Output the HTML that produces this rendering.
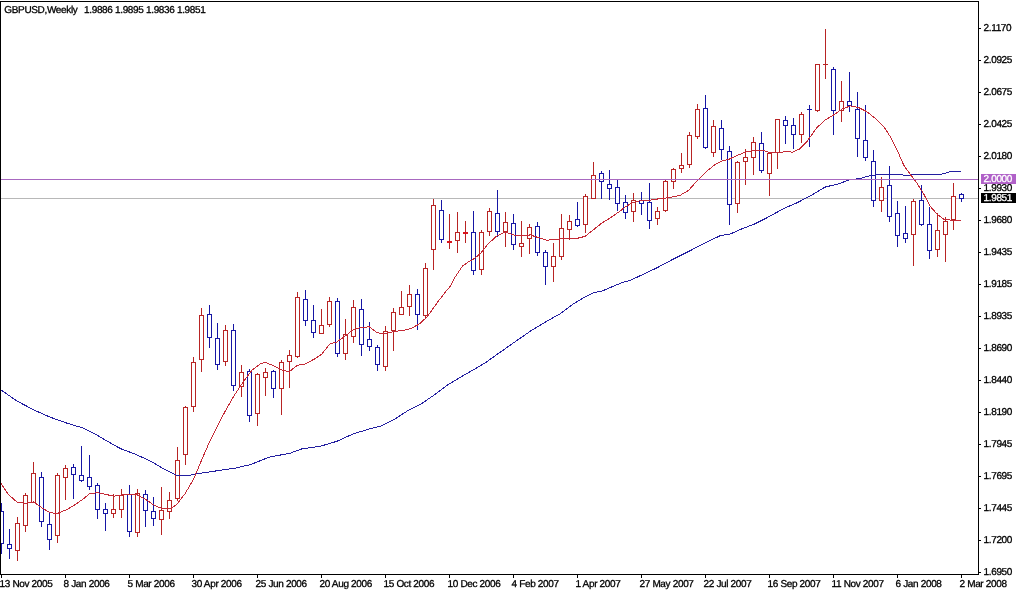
<!DOCTYPE html>
<html><head><meta charset="utf-8"><title>GBPUSD Weekly</title>
<style>
html,body{margin:0;padding:0;background:#fff;}
body{width:1017px;height:591px;position:relative;overflow:hidden;font-family:"Liberation Sans",sans-serif;font-size:10px;letter-spacing:-0.34px;text-rendering:geometricPrecision;-webkit-text-stroke:0.3px;color:#000;}
svg{position:absolute;left:0;top:0;}
.t{position:absolute;white-space:pre;line-height:12px;}
.pl{position:absolute;left:983.5px;white-space:pre;line-height:12px;height:12px;}
.dl{position:absolute;top:579px;white-space:pre;line-height:12px;height:12px;}
.tag{position:absolute;left:981px;width:35px;height:10px;line-height:12px;overflow:hidden;color:#fff;white-space:pre;box-sizing:border-box;padding-left:2.5px;}
</style></head><body>
<svg width="1017" height="591" viewBox="0 0 1017 591" shape-rendering="crispEdges">
<rect x="0" y="0" width="1017" height="591" fill="#fff"/>
<rect x="0" y="198" width="978" height="1" fill="#b8b8b8"/>
<rect x="1" y="503" width="1" height="51" fill="#1616a4"/>
<rect x="-0.5" y="511.5" width="4" height="32" fill="#fff" stroke="#1616a4" stroke-width="1"/>
<rect x="9" y="529" width="1" height="30" fill="#1616a4"/>
<rect x="7.5" y="544.5" width="4" height="4" fill="#fff" stroke="#1616a4" stroke-width="1"/>
<rect x="17" y="517" width="1" height="44" fill="#b82424"/>
<rect x="15.5" y="523.5" width="4" height="27" fill="#fff" stroke="#b82424" stroke-width="1"/>
<rect x="25" y="493" width="1" height="39" fill="#b82424"/>
<rect x="23.5" y="495.5" width="4" height="30" fill="#fff" stroke="#b82424" stroke-width="1"/>
<rect x="33" y="462" width="1" height="41" fill="#b82424"/>
<rect x="31.5" y="473.5" width="4" height="29" fill="#fff" stroke="#b82424" stroke-width="1"/>
<rect x="41" y="472" width="1" height="55" fill="#1616a4"/>
<rect x="39.5" y="477.5" width="4" height="44" fill="#fff" stroke="#1616a4" stroke-width="1"/>
<rect x="49" y="513" width="1" height="37" fill="#1616a4"/>
<rect x="47.5" y="524.5" width="4" height="15" fill="#fff" stroke="#1616a4" stroke-width="1"/>
<rect x="57" y="473" width="1" height="70" fill="#b82424"/>
<rect x="55.5" y="475.5" width="4" height="60" fill="#fff" stroke="#b82424" stroke-width="1"/>
<rect x="65" y="465" width="1" height="35" fill="#b82424"/>
<rect x="63.5" y="468.5" width="4" height="9" fill="#fff" stroke="#b82424" stroke-width="1"/>
<rect x="73" y="464" width="1" height="35" fill="#1616a4"/>
<rect x="71.5" y="467.5" width="4" height="7" fill="#fff" stroke="#1616a4" stroke-width="1"/>
<rect x="81" y="446" width="1" height="36" fill="#1616a4"/>
<rect x="79.5" y="475.5" width="4" height="5" fill="#fff" stroke="#1616a4" stroke-width="1"/>
<rect x="89" y="455" width="1" height="35" fill="#1616a4"/>
<rect x="87.5" y="477.5" width="4" height="9" fill="#fff" stroke="#1616a4" stroke-width="1"/>
<rect x="97" y="483" width="1" height="36" fill="#1616a4"/>
<rect x="95.5" y="485.5" width="4" height="24" fill="#fff" stroke="#1616a4" stroke-width="1"/>
<rect x="105" y="503" width="1" height="28" fill="#1616a4"/>
<rect x="103.5" y="509.5" width="4" height="4" fill="#fff" stroke="#1616a4" stroke-width="1"/>
<rect x="113" y="494" width="1" height="24" fill="#b82424"/>
<rect x="111.5" y="509.5" width="4" height="4" fill="#fff" stroke="#b82424" stroke-width="1"/>
<rect x="121" y="489" width="1" height="29" fill="#b82424"/>
<rect x="119.5" y="495.5" width="4" height="14" fill="#fff" stroke="#b82424" stroke-width="1"/>
<rect x="129" y="485" width="1" height="52" fill="#1616a4"/>
<rect x="127.5" y="494.5" width="4" height="37" fill="#fff" stroke="#1616a4" stroke-width="1"/>
<rect x="137" y="489" width="1" height="48" fill="#b82424"/>
<rect x="135.5" y="493.5" width="4" height="39" fill="#fff" stroke="#b82424" stroke-width="1"/>
<rect x="145" y="490" width="1" height="37" fill="#1616a4"/>
<rect x="143.5" y="494.5" width="4" height="16" fill="#fff" stroke="#1616a4" stroke-width="1"/>
<rect x="153" y="497" width="1" height="29" fill="#1616a4"/>
<rect x="151.5" y="511.5" width="4" height="7" fill="#fff" stroke="#1616a4" stroke-width="1"/>
<rect x="161" y="487" width="1" height="48" fill="#b82424"/>
<rect x="159.5" y="510.5" width="4" height="9" fill="#fff" stroke="#b82424" stroke-width="1"/>
<rect x="169" y="492" width="1" height="27" fill="#b82424"/>
<rect x="167.5" y="500.5" width="4" height="11" fill="#fff" stroke="#b82424" stroke-width="1"/>
<rect x="177" y="447" width="1" height="54" fill="#b82424"/>
<rect x="175.5" y="460.5" width="4" height="38" fill="#fff" stroke="#b82424" stroke-width="1"/>
<rect x="185" y="406" width="1" height="59" fill="#b82424"/>
<rect x="183.5" y="407.5" width="4" height="47" fill="#fff" stroke="#b82424" stroke-width="1"/>
<rect x="193" y="357" width="1" height="55" fill="#b82424"/>
<rect x="191.5" y="362.5" width="4" height="44" fill="#fff" stroke="#b82424" stroke-width="1"/>
<rect x="201" y="308" width="1" height="64" fill="#b82424"/>
<rect x="199.5" y="315.5" width="4" height="44" fill="#fff" stroke="#b82424" stroke-width="1"/>
<rect x="209" y="305" width="1" height="43" fill="#1616a4"/>
<rect x="207.5" y="314.5" width="4" height="23" fill="#fff" stroke="#1616a4" stroke-width="1"/>
<rect x="217" y="323" width="1" height="47" fill="#1616a4"/>
<rect x="215.5" y="338.5" width="4" height="26" fill="#fff" stroke="#1616a4" stroke-width="1"/>
<rect x="225" y="325" width="1" height="41" fill="#b82424"/>
<rect x="223.5" y="330.5" width="4" height="31" fill="#fff" stroke="#b82424" stroke-width="1"/>
<rect x="233" y="324" width="1" height="67" fill="#1616a4"/>
<rect x="231.5" y="330.5" width="4" height="55" fill="#fff" stroke="#1616a4" stroke-width="1"/>
<rect x="241" y="365" width="1" height="32" fill="#b82424"/>
<rect x="239.5" y="372.5" width="4" height="14" fill="#fff" stroke="#b82424" stroke-width="1"/>
<rect x="249" y="369" width="1" height="53" fill="#1616a4"/>
<rect x="247.5" y="371.5" width="4" height="44" fill="#fff" stroke="#1616a4" stroke-width="1"/>
<rect x="257" y="373" width="1" height="53" fill="#b82424"/>
<rect x="255.5" y="374.5" width="4" height="39" fill="#fff" stroke="#b82424" stroke-width="1"/>
<rect x="265" y="368" width="1" height="28" fill="#b82424"/>
<rect x="263.5" y="372.5" width="4" height="5" fill="#fff" stroke="#b82424" stroke-width="1"/>
<rect x="273" y="370" width="1" height="28" fill="#1616a4"/>
<rect x="271.5" y="371.5" width="4" height="17" fill="#fff" stroke="#1616a4" stroke-width="1"/>
<rect x="281" y="360" width="1" height="55" fill="#b82424"/>
<rect x="279.5" y="362.5" width="4" height="26" fill="#fff" stroke="#b82424" stroke-width="1"/>
<rect x="289" y="350" width="1" height="38" fill="#b82424"/>
<rect x="287.5" y="355.5" width="4" height="6" fill="#fff" stroke="#b82424" stroke-width="1"/>
<rect x="297" y="292" width="1" height="66" fill="#b82424"/>
<rect x="295.5" y="297.5" width="4" height="59" fill="#fff" stroke="#b82424" stroke-width="1"/>
<rect x="305" y="290" width="1" height="36" fill="#1616a4"/>
<rect x="303.5" y="299.5" width="4" height="21" fill="#fff" stroke="#1616a4" stroke-width="1"/>
<rect x="313" y="305" width="1" height="33" fill="#1616a4"/>
<rect x="311.5" y="320.5" width="4" height="12" fill="#fff" stroke="#1616a4" stroke-width="1"/>
<rect x="321" y="309" width="1" height="25" fill="#b82424"/>
<rect x="319.5" y="325.5" width="4" height="8" fill="#fff" stroke="#b82424" stroke-width="1"/>
<rect x="329" y="297" width="1" height="30" fill="#b82424"/>
<rect x="327.5" y="301.5" width="4" height="23" fill="#fff" stroke="#b82424" stroke-width="1"/>
<rect x="337" y="298" width="1" height="59" fill="#1616a4"/>
<rect x="335.5" y="301.5" width="4" height="52" fill="#fff" stroke="#1616a4" stroke-width="1"/>
<rect x="345" y="319" width="1" height="41" fill="#b82424"/>
<rect x="343.5" y="334.5" width="4" height="19" fill="#fff" stroke="#b82424" stroke-width="1"/>
<rect x="353" y="300" width="1" height="43" fill="#b82424"/>
<rect x="351.5" y="307.5" width="4" height="29" fill="#fff" stroke="#b82424" stroke-width="1"/>
<rect x="361" y="299" width="1" height="57" fill="#1616a4"/>
<rect x="359.5" y="309.5" width="4" height="35" fill="#fff" stroke="#1616a4" stroke-width="1"/>
<rect x="369" y="322" width="1" height="29" fill="#1616a4"/>
<rect x="367.5" y="339.5" width="4" height="7" fill="#fff" stroke="#1616a4" stroke-width="1"/>
<rect x="377" y="345" width="1" height="26" fill="#1616a4"/>
<rect x="375.5" y="347.5" width="4" height="17" fill="#fff" stroke="#1616a4" stroke-width="1"/>
<rect x="385" y="326" width="1" height="45" fill="#b82424"/>
<rect x="383.5" y="331.5" width="4" height="35" fill="#fff" stroke="#b82424" stroke-width="1"/>
<rect x="393" y="308" width="1" height="43" fill="#b82424"/>
<rect x="391.5" y="312.5" width="4" height="18" fill="#fff" stroke="#b82424" stroke-width="1"/>
<rect x="401" y="291" width="1" height="24" fill="#b82424"/>
<rect x="399.5" y="307.5" width="4" height="7" fill="#fff" stroke="#b82424" stroke-width="1"/>
<rect x="409" y="285" width="1" height="31" fill="#b82424"/>
<rect x="407.5" y="294.5" width="4" height="12" fill="#fff" stroke="#b82424" stroke-width="1"/>
<rect x="417" y="289" width="1" height="41" fill="#1616a4"/>
<rect x="415.5" y="294.5" width="4" height="20" fill="#fff" stroke="#1616a4" stroke-width="1"/>
<rect x="425" y="263" width="1" height="55" fill="#b82424"/>
<rect x="423.5" y="268.5" width="4" height="47" fill="#fff" stroke="#b82424" stroke-width="1"/>
<rect x="433" y="199" width="1" height="71" fill="#b82424"/>
<rect x="431.5" y="205.5" width="4" height="44" fill="#fff" stroke="#b82424" stroke-width="1"/>
<rect x="441" y="200" width="1" height="43" fill="#1616a4"/>
<rect x="439.5" y="210.5" width="4" height="29" fill="#fff" stroke="#1616a4" stroke-width="1"/>
<rect x="449" y="214" width="1" height="35" fill="#b82424"/>
<rect x="447" y="241" width="5" height="2" fill="#d8141c"/>
<rect x="457" y="212" width="1" height="41" fill="#b82424"/>
<rect x="455.5" y="232.5" width="4" height="8" fill="#fff" stroke="#b82424" stroke-width="1"/>
<rect x="465" y="221" width="1" height="22" fill="#b82424"/>
<rect x="463" y="232" width="5" height="2" fill="#d8141c"/>
<rect x="473" y="211" width="1" height="64" fill="#1616a4"/>
<rect x="471.5" y="232.5" width="4" height="38" fill="#fff" stroke="#1616a4" stroke-width="1"/>
<rect x="481" y="230" width="1" height="45" fill="#b82424"/>
<rect x="479.5" y="232.5" width="4" height="37" fill="#fff" stroke="#b82424" stroke-width="1"/>
<rect x="489" y="208" width="1" height="28" fill="#b82424"/>
<rect x="487.5" y="211.5" width="4" height="20" fill="#fff" stroke="#b82424" stroke-width="1"/>
<rect x="497" y="190" width="1" height="47" fill="#1616a4"/>
<rect x="495.5" y="213.5" width="4" height="18" fill="#fff" stroke="#1616a4" stroke-width="1"/>
<rect x="505" y="212" width="1" height="35" fill="#b82424"/>
<rect x="503.5" y="222.5" width="4" height="9" fill="#fff" stroke="#b82424" stroke-width="1"/>
<rect x="513" y="214" width="1" height="36" fill="#1616a4"/>
<rect x="511.5" y="223.5" width="4" height="21" fill="#fff" stroke="#1616a4" stroke-width="1"/>
<rect x="521" y="221" width="1" height="36" fill="#b82424"/>
<rect x="519.5" y="243.5" width="4" height="3" fill="#fff" stroke="#b82424" stroke-width="1"/>
<rect x="529" y="224" width="1" height="30" fill="#b82424"/>
<rect x="527.5" y="227.5" width="4" height="11" fill="#fff" stroke="#b82424" stroke-width="1"/>
<rect x="537" y="222" width="1" height="34" fill="#1616a4"/>
<rect x="535.5" y="226.5" width="4" height="26" fill="#fff" stroke="#1616a4" stroke-width="1"/>
<rect x="545" y="250" width="1" height="35" fill="#1616a4"/>
<rect x="543.5" y="252.5" width="4" height="14" fill="#fff" stroke="#1616a4" stroke-width="1"/>
<rect x="553" y="243" width="1" height="39" fill="#b82424"/>
<rect x="551.5" y="256.5" width="4" height="10" fill="#fff" stroke="#b82424" stroke-width="1"/>
<rect x="561" y="214" width="1" height="46" fill="#b82424"/>
<rect x="559.5" y="228.5" width="4" height="28" fill="#fff" stroke="#b82424" stroke-width="1"/>
<rect x="569" y="215" width="1" height="25" fill="#b82424"/>
<rect x="567.5" y="221.5" width="4" height="8" fill="#fff" stroke="#b82424" stroke-width="1"/>
<rect x="577" y="202" width="1" height="25" fill="#1616a4"/>
<rect x="575.5" y="219.5" width="4" height="6" fill="#fff" stroke="#1616a4" stroke-width="1"/>
<rect x="585" y="194" width="1" height="39" fill="#b82424"/>
<rect x="583.5" y="196.5" width="4" height="28" fill="#fff" stroke="#b82424" stroke-width="1"/>
<rect x="593" y="162" width="1" height="37" fill="#b82424"/>
<rect x="591.5" y="175.5" width="4" height="23" fill="#fff" stroke="#b82424" stroke-width="1"/>
<rect x="601" y="171" width="1" height="28" fill="#1616a4"/>
<rect x="599.5" y="173.5" width="4" height="8" fill="#fff" stroke="#1616a4" stroke-width="1"/>
<rect x="609" y="170" width="1" height="30" fill="#1616a4"/>
<rect x="607.5" y="184.5" width="4" height="4" fill="#fff" stroke="#1616a4" stroke-width="1"/>
<rect x="617" y="180" width="1" height="31" fill="#1616a4"/>
<rect x="615.5" y="187.5" width="4" height="16" fill="#fff" stroke="#1616a4" stroke-width="1"/>
<rect x="625" y="195" width="1" height="24" fill="#1616a4"/>
<rect x="623.5" y="202.5" width="4" height="10" fill="#fff" stroke="#1616a4" stroke-width="1"/>
<rect x="633" y="193" width="1" height="29" fill="#b82424"/>
<rect x="631.5" y="200.5" width="4" height="11" fill="#fff" stroke="#b82424" stroke-width="1"/>
<rect x="641" y="192" width="1" height="23" fill="#1616a4"/>
<rect x="639.5" y="200.5" width="4" height="3" fill="#fff" stroke="#1616a4" stroke-width="1"/>
<rect x="649" y="183" width="1" height="46" fill="#1616a4"/>
<rect x="647.5" y="202.5" width="4" height="18" fill="#fff" stroke="#1616a4" stroke-width="1"/>
<rect x="657" y="207" width="1" height="18" fill="#b82424"/>
<rect x="655.5" y="211.5" width="4" height="7" fill="#fff" stroke="#b82424" stroke-width="1"/>
<rect x="665" y="180" width="1" height="32" fill="#b82424"/>
<rect x="663.5" y="181.5" width="4" height="29" fill="#fff" stroke="#b82424" stroke-width="1"/>
<rect x="673" y="168" width="1" height="21" fill="#b82424"/>
<rect x="671.5" y="169.5" width="4" height="12" fill="#fff" stroke="#b82424" stroke-width="1"/>
<rect x="681" y="153" width="1" height="20" fill="#b82424"/>
<rect x="679.5" y="165.5" width="4" height="3" fill="#fff" stroke="#b82424" stroke-width="1"/>
<rect x="689" y="132" width="1" height="36" fill="#b82424"/>
<rect x="687.5" y="135.5" width="4" height="29" fill="#fff" stroke="#b82424" stroke-width="1"/>
<rect x="697" y="104" width="1" height="35" fill="#b82424"/>
<rect x="695.5" y="109.5" width="4" height="27" fill="#fff" stroke="#b82424" stroke-width="1"/>
<rect x="705" y="95" width="1" height="54" fill="#1616a4"/>
<rect x="703.5" y="108.5" width="4" height="39" fill="#fff" stroke="#1616a4" stroke-width="1"/>
<rect x="713" y="120" width="1" height="37" fill="#b82424"/>
<rect x="711.5" y="126.5" width="4" height="26" fill="#fff" stroke="#b82424" stroke-width="1"/>
<rect x="721" y="120" width="1" height="40" fill="#1616a4"/>
<rect x="719.5" y="128.5" width="4" height="21" fill="#fff" stroke="#1616a4" stroke-width="1"/>
<rect x="729" y="146" width="1" height="79" fill="#1616a4"/>
<rect x="727.5" y="151.5" width="4" height="53" fill="#fff" stroke="#1616a4" stroke-width="1"/>
<rect x="737" y="161" width="1" height="52" fill="#b82424"/>
<rect x="735.5" y="162.5" width="4" height="41" fill="#fff" stroke="#b82424" stroke-width="1"/>
<rect x="745" y="149" width="1" height="36" fill="#b82424"/>
<rect x="743.5" y="157.5" width="4" height="4" fill="#fff" stroke="#b82424" stroke-width="1"/>
<rect x="753" y="137" width="1" height="38" fill="#b82424"/>
<rect x="751.5" y="142.5" width="4" height="15" fill="#fff" stroke="#b82424" stroke-width="1"/>
<rect x="761" y="132" width="1" height="41" fill="#1616a4"/>
<rect x="759.5" y="143.5" width="4" height="27" fill="#fff" stroke="#1616a4" stroke-width="1"/>
<rect x="769" y="152" width="1" height="44" fill="#b82424"/>
<rect x="767.5" y="153.5" width="4" height="20" fill="#fff" stroke="#b82424" stroke-width="1"/>
<rect x="777" y="119" width="1" height="50" fill="#b82424"/>
<rect x="775.5" y="119.5" width="4" height="33" fill="#fff" stroke="#b82424" stroke-width="1"/>
<rect x="785" y="116" width="1" height="28" fill="#1616a4"/>
<rect x="783.5" y="120.5" width="4" height="5" fill="#fff" stroke="#1616a4" stroke-width="1"/>
<rect x="793" y="118" width="1" height="31" fill="#1616a4"/>
<rect x="791.5" y="125.5" width="4" height="9" fill="#fff" stroke="#1616a4" stroke-width="1"/>
<rect x="801" y="112" width="1" height="31" fill="#b82424"/>
<rect x="799.5" y="114.5" width="4" height="20" fill="#fff" stroke="#b82424" stroke-width="1"/>
<rect x="809" y="105" width="1" height="42" fill="#1616a4"/>
<rect x="807" y="109" width="5" height="1" fill="#1616a4"/>
<rect x="817" y="64" width="1" height="48" fill="#b82424"/>
<rect x="815.5" y="64.5" width="4" height="46" fill="#fff" stroke="#b82424" stroke-width="1"/>
<rect x="825" y="29" width="1" height="50" fill="#b82424"/>
<rect x="823" y="64" width="5" height="1" fill="#b82424"/>
<rect x="833" y="67" width="1" height="68" fill="#1616a4"/>
<rect x="831.5" y="69.5" width="4" height="41" fill="#fff" stroke="#1616a4" stroke-width="1"/>
<rect x="841" y="81" width="1" height="41" fill="#b82424"/>
<rect x="839.5" y="101.5" width="4" height="9" fill="#fff" stroke="#b82424" stroke-width="1"/>
<rect x="849" y="72" width="1" height="40" fill="#1616a4"/>
<rect x="847.5" y="101.5" width="4" height="4" fill="#fff" stroke="#1616a4" stroke-width="1"/>
<rect x="857" y="92" width="1" height="65" fill="#1616a4"/>
<rect x="855.5" y="109.5" width="4" height="29" fill="#fff" stroke="#1616a4" stroke-width="1"/>
<rect x="865" y="105" width="1" height="56" fill="#1616a4"/>
<rect x="863.5" y="140.5" width="4" height="17" fill="#fff" stroke="#1616a4" stroke-width="1"/>
<rect x="873" y="150" width="1" height="57" fill="#1616a4"/>
<rect x="871.5" y="161.5" width="4" height="39" fill="#fff" stroke="#1616a4" stroke-width="1"/>
<rect x="881" y="177" width="1" height="35" fill="#b82424"/>
<rect x="879.5" y="187.5" width="4" height="13" fill="#fff" stroke="#b82424" stroke-width="1"/>
<rect x="889" y="166" width="1" height="56" fill="#1616a4"/>
<rect x="887.5" y="185.5" width="4" height="31" fill="#fff" stroke="#1616a4" stroke-width="1"/>
<rect x="897" y="201" width="1" height="46" fill="#1616a4"/>
<rect x="895.5" y="213.5" width="4" height="22" fill="#fff" stroke="#1616a4" stroke-width="1"/>
<rect x="905" y="206" width="1" height="37" fill="#1616a4"/>
<rect x="903.5" y="233.5" width="4" height="5" fill="#fff" stroke="#1616a4" stroke-width="1"/>
<rect x="913" y="199" width="1" height="67" fill="#b82424"/>
<rect x="911.5" y="201.5" width="4" height="33" fill="#fff" stroke="#b82424" stroke-width="1"/>
<rect x="921" y="185" width="1" height="41" fill="#1616a4"/>
<rect x="919.5" y="200.5" width="4" height="24" fill="#fff" stroke="#1616a4" stroke-width="1"/>
<rect x="929" y="207" width="1" height="52" fill="#1616a4"/>
<rect x="927.5" y="224.5" width="4" height="26" fill="#fff" stroke="#1616a4" stroke-width="1"/>
<rect x="937" y="213" width="1" height="44" fill="#b82424"/>
<rect x="935.5" y="230.5" width="4" height="19" fill="#fff" stroke="#b82424" stroke-width="1"/>
<rect x="945" y="217" width="1" height="45" fill="#b82424"/>
<rect x="943.5" y="221.5" width="4" height="13" fill="#fff" stroke="#b82424" stroke-width="1"/>
<rect x="953" y="183" width="1" height="47" fill="#b82424"/>
<rect x="951.5" y="196.5" width="4" height="23" fill="#fff" stroke="#b82424" stroke-width="1"/>
<rect x="961" y="193" width="1" height="9" fill="#1616a4"/>
<rect x="959.5" y="194.5" width="4" height="4" fill="#fff" stroke="#1616a4" stroke-width="1"/>
<g shape-rendering="crispEdges">
<polyline fill="none" stroke="#221ea0" stroke-width="1" points="1.0,390.0 16.8,400.9 33.5,409.8 50.3,417.2 67.0,423.2 82.0,427.7 93.8,433.3 107.2,441.1 120.6,448.7 134.0,453.7 150.8,461.2 160.0,466.8 170.0,472.1 176.8,475.2 188.5,475.4 201.9,473.0 235.4,468.1 250.5,464.6 268.9,457.3 290.7,453.0 302.4,448.7 320.0,446.4 336.8,441.3 353.5,433.8 370.3,428.7 380.3,426.2 395.4,418.7 407.1,411.1 420.5,404.4 433.9,395.2 447.3,385.2 462.4,376.0 475.8,368.4 485.0,363.0 496.8,354.6 513.5,342.9 530.3,331.2 547.0,321.1 560.4,313.6 573.8,303.5 583.9,297.7 593.9,292.6 602.3,291.0 614.0,285.9 622.4,282.6 630.8,280.1 640.4,275.6 656.8,267.9 673.5,259.0 690.3,250.6 707.0,241.9 720.4,235.6 730.5,233.9 740.5,229.4 753.9,224.3 767.3,217.6 784.0,208.4 797.4,202.6 811.0,195.5 825.1,187.1 838.5,183.8 850.3,179.6 860.0,178.5 867.1,176.5 871.8,175.5 877.8,174.5 901.5,174.5 903.8,175.4 908.6,175.4 911.0,174.5 940.6,174.5 945.3,173.2 950.0,171.8 954.8,171.5 961.0,171.5"/>
<polyline fill="none" stroke="#c42a36" stroke-width="1" points="1.0,483.5 8.4,494.4 16.8,501.9 25.0,503.3 33.5,501.9 41.9,507.8 50.3,512.8 57.8,513.3 67.0,509.5 75.4,504.4 83.8,498.6 89.6,493.6 97.2,492.7 105.5,494.4 113.9,496.1 120.6,495.2 129.0,494.1 137.4,494.9 145.7,499.4 154.1,505.3 161.6,508.3 170.0,508.9 176.8,504.5 185.1,493.6 193.5,479.4 201.9,459.3 209.5,442.0 218.6,423.7 227.0,407.8 235.4,393.6 243.8,381.0 252.1,370.1 260.5,363.8 265.5,362.3 273.9,366.0 282.3,370.1 289.0,371.8 297.4,365.4 305.7,363.8 314.1,359.2 321.5,354.4 330.0,343.8 336.8,342.0 345.1,336.1 353.5,329.4 361.9,327.2 369.4,326.9 377.0,332.7 383.7,333.6 393.7,331.6 403.8,330.2 410.5,328.6 418.8,324.4 427.2,316.8 437.3,302.6 445.6,291.7 449.8,287.0 454.0,278.8 462.4,266.2 467.4,262.5 474.1,258.7 480.5,253.5 488.4,243.6 496.8,236.0 505.1,231.9 513.5,234.9 521.9,236.0 530.3,234.9 538.6,237.7 547.0,240.2 555.4,239.4 563.8,238.6 572.1,239.0 580.5,237.7 585.5,236.0 593.9,229.4 602.3,222.7 610.7,217.6 619.0,211.8 625.7,206.7 632.4,202.6 639.1,200.9 650.0,200.2 660.1,198.6 670.2,197.5 680.2,195.3 688.6,190.3 697.0,181.0 707.0,171.0 715.4,164.3 722.1,160.9 728.8,159.3 737.2,155.4 745.5,152.1 753.9,150.4 762.3,150.4 770.7,152.6 779.0,152.6 785.7,151.7 792.4,152.1 799.5,149.0 807.0,141.5 816.8,127.7 825.1,120.1 833.5,115.1 841.9,109.2 850.3,105.9 858.6,107.6 867.0,111.8 875.4,118.5 883.8,126.8 890.5,136.9 897.2,150.3 903.9,165.4 910.6,174.8 917.3,183.6 924.0,194.5 930.6,206.8 937.3,214.4 944.0,219.4 952.4,220.2 961.0,221.0"/>
</g>
<rect x="0" y="179" width="978" height="1" fill="#a868c0"/>
<rect x="0" y="1" width="979" height="1" fill="#000"/>
<rect x="0" y="1" width="1" height="574" fill="#000"/>
<rect x="978" y="1" width="1" height="574" fill="#000"/>
<rect x="0" y="574" width="979" height="1" fill="#000"/>
<rect x="979" y="28" width="2" height="1" fill="#000"/>
<rect x="979" y="60" width="2" height="1" fill="#000"/>
<rect x="979" y="92" width="2" height="1" fill="#000"/>
<rect x="979" y="124" width="2" height="1" fill="#000"/>
<rect x="979" y="156" width="2" height="1" fill="#000"/>
<rect x="979" y="188" width="2" height="1" fill="#000"/>
<rect x="979" y="220" width="2" height="1" fill="#000"/>
<rect x="979" y="252" width="2" height="1" fill="#000"/>
<rect x="979" y="284" width="2" height="1" fill="#000"/>
<rect x="979" y="316" width="2" height="1" fill="#000"/>
<rect x="979" y="348" width="2" height="1" fill="#000"/>
<rect x="979" y="380" width="2" height="1" fill="#000"/>
<rect x="979" y="412" width="2" height="1" fill="#000"/>
<rect x="979" y="444" width="2" height="1" fill="#000"/>
<rect x="979" y="476" width="2" height="1" fill="#000"/>
<rect x="979" y="508" width="2" height="1" fill="#000"/>
<rect x="979" y="540" width="2" height="1" fill="#000"/>
<rect x="979" y="572" width="2" height="1" fill="#000"/>
<rect x="1" y="575" width="1" height="3" fill="#000"/>
<rect x="65" y="575" width="1" height="3" fill="#000"/>
<rect x="129" y="575" width="1" height="3" fill="#000"/>
<rect x="193" y="575" width="1" height="3" fill="#000"/>
<rect x="257" y="575" width="1" height="3" fill="#000"/>
<rect x="321" y="575" width="1" height="3" fill="#000"/>
<rect x="385" y="575" width="1" height="3" fill="#000"/>
<rect x="449" y="575" width="1" height="3" fill="#000"/>
<rect x="513" y="575" width="1" height="3" fill="#000"/>
<rect x="577" y="575" width="1" height="3" fill="#000"/>
<rect x="641" y="575" width="1" height="3" fill="#000"/>
<rect x="705" y="575" width="1" height="3" fill="#000"/>
<rect x="769" y="575" width="1" height="3" fill="#000"/>
<rect x="833" y="575" width="1" height="3" fill="#000"/>
<rect x="897" y="575" width="1" height="3" fill="#000"/>
<rect x="961" y="575" width="1" height="3" fill="#000"/>
</svg>
<div class="t" style="left:4.3px;top:5px">GBPUSD,Weekly</div>
<div class="t" style="left:84px;top:5px">1.9886 1.9895 1.9836 1.9851</div>
<div class="pl" style="top:23px">2.1170</div>
<div class="pl" style="top:55px">2.0925</div>
<div class="pl" style="top:87px">2.0675</div>
<div class="pl" style="top:119px">2.0425</div>
<div class="pl" style="top:151px">2.0180</div>
<div class="pl" style="top:183px">1.9930</div>
<div class="pl" style="top:215px">1.9680</div>
<div class="pl" style="top:247px">1.9435</div>
<div class="pl" style="top:279px">1.9185</div>
<div class="pl" style="top:311px">1.8935</div>
<div class="pl" style="top:343px">1.8690</div>
<div class="pl" style="top:375px">1.8440</div>
<div class="pl" style="top:407px">1.8190</div>
<div class="pl" style="top:439px">1.7945</div>
<div class="pl" style="top:471px">1.7695</div>
<div class="pl" style="top:503px">1.7445</div>
<div class="pl" style="top:535px">1.7200</div>
<div class="pl" style="top:567px">1.6950</div>
<div class="dl" style="left:-0.5px">13 Nov 2005</div>
<div class="dl" style="left:63.5px">8 Jan 2006</div>
<div class="dl" style="left:127.5px">5 Mar 2006</div>
<div class="dl" style="left:191.5px">30 Apr 2006</div>
<div class="dl" style="left:255.5px">25 Jun 2006</div>
<div class="dl" style="left:319.5px">20 Aug 2006</div>
<div class="dl" style="left:383.5px">15 Oct 2006</div>
<div class="dl" style="left:447.5px">10 Dec 2006</div>
<div class="dl" style="left:511.5px">4 Feb 2007</div>
<div class="dl" style="left:575.5px">1 Apr 2007</div>
<div class="dl" style="left:639.5px">27 May 2007</div>
<div class="dl" style="left:703.5px">22 Jul 2007</div>
<div class="dl" style="left:767.5px">16 Sep 2007</div>
<div class="dl" style="left:831.5px">11 Nov 2007</div>
<div class="dl" style="left:895.5px">6 Jan 2008</div>
<div class="dl" style="left:959.5px">2 Mar 2008</div>
<div class="tag" style="top:174px;background:#b060c8">2.0000</div>
<div class="tag" style="top:193px;background:#000">1.9851</div>
</body></html>
